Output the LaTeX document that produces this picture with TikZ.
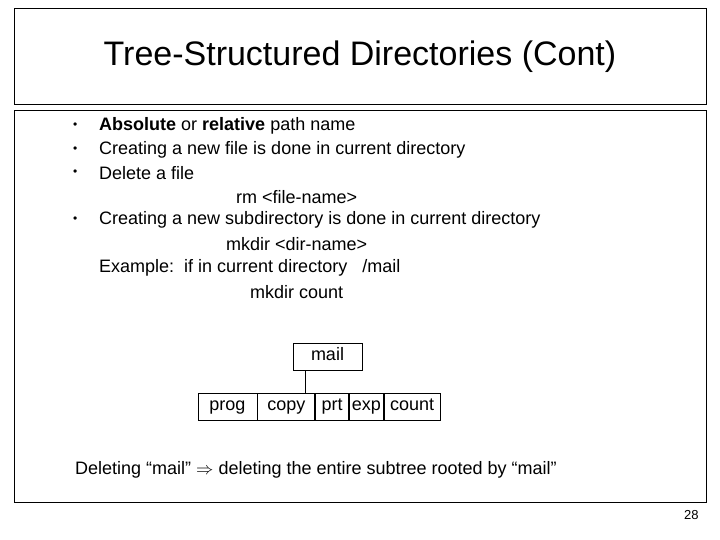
\documentclass[tikz,border=0pt]{standalone}
\usepackage{fontspec}
\setmainfont{Liberation Sans}
\usepackage{amssymb}
\tikzset{
  line/.style={anchor=west, inner sep=0pt, font=\fontsize{18}{20}\selectfont},
  cell/.style={draw, line width=0.8pt, minimum height=27pt, inner sep=0pt,
    text height=12pt, text depth=3.5pt, font=\fontsize{18}{20}\selectfont},
}
\begin{document}
\begin{tikzpicture}[x=1pt, y=-1pt]
\useasboundingbox (0,0) rectangle (720,540);
% frames
\draw [line width=1pt] (14,9) rectangle (706,105);
\draw [line width=1pt] (14,111) rectangle (706,502);
\node (title) at (360,57) {\fontsize{34}{38}\selectfont Tree-Structured Directories (Cont)};
% bullets
\foreach \y/\n in {126/b1, 150/b2, 173/b3, 220/b4}
  \node [line, font=\fontsize{12}{14}\selectfont] (\n) at (73,\y) {\textbullet};
\node [line] (l1) at (99,126) {\textbf{Absolute} or \textbf{relative} path name};
\node [line] (l2) at (99,150) {Creating a new file is done in current directory};
\node [line] (l3) at (99,173) {Delete a file};
\node [line] (l4) at (236,197) {rm <file-name>};
\node [line] (l5) at (99,220) {Creating a new subdirectory is done in current directory};
\node [line] (l6) at (226,244) {mkdir <dir-name>};
\node [line] (l7) at (99,268) {Example:\ \ if in current directory\ \ \ /mail};
\node [line] (l8) at (250,292) {mkdir count};
% tree
\node [cell, minimum width=69pt] (mail) at (327.5,356.5) {mail};
\node [cell, minimum width=59pt] (prog) at (227.5,406.5) {prog};
\node [cell, minimum width=57pt, anchor=west] (copy) at (prog.east) {copy};
\node [cell, minimum width=33pt, anchor=west] (prt) at (copy.east) {prt};
\node [cell, minimum width=34pt, anchor=west] (exp) at (prt.east) {exp};
\node [cell, minimum width=56pt, anchor=west] (count) at (exp.east) {count};
\coordinate (top) at (305,370);
\draw [line width=0.8pt] (top) -- (top |- copy.north);
\node [line] (del) at (75,470) {Deleting “mail” $\Rightarrow$ deleting the entire subtree rooted by “mail”};
\node [line, font=\fontsize{13}{15}\selectfont] (page) at (684,515) {28};
\end{tikzpicture}
\end{document}
